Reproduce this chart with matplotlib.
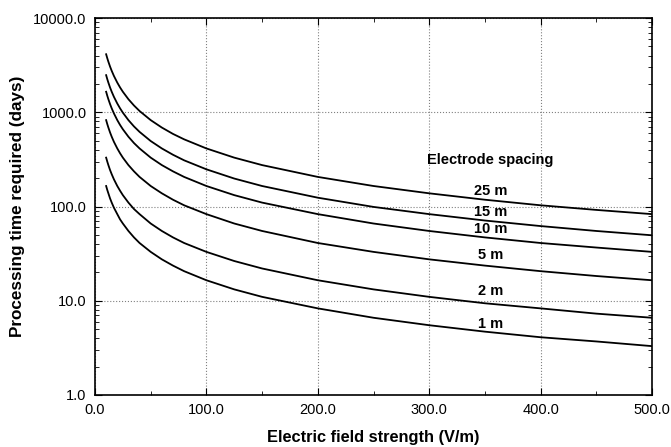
import numpy as np
import matplotlib.pyplot as plt
from matplotlib.ticker import FixedLocator, LogLocator, FormatStrFormatter, NullFormatter

plt.rcParams['font.family'] = ['Liberation Sans', 'DejaVu Sans']

# electric field strength (V/m)
field = [10, 11, 12, 13.5, 15, 17, 20, 22.5, 25, 30, 35, 40, 50, 60, 70, 80, 100, 125, 150, 200, 250, 300, 350, 400, 450, 500]

# processing time (days), one list per electrode spacing
t_1m = [165, 150, 138, 122, 110, 97, 83, 73, 66, 55, 47, 41, 33, 27.5, 23.6, 20.6, 16.5, 13.2, 11.0, 8.3, 6.6, 5.5, 4.7, 4.1, 3.7, 3.3]
t_2m = [330, 300, 275, 244, 220, 194, 165, 147, 132, 110, 94, 83, 66, 55, 47, 41, 33, 26.4, 22, 16.5, 13.2, 11.0, 9.4, 8.3, 7.3, 6.6]
t_5m = [825, 750, 688, 611, 550, 485, 413, 367, 330, 275, 236, 206, 165, 138, 118, 103, 83, 66, 55, 41, 33, 27.5, 23.6, 20.6, 18.3, 16.5]
t_10m = [1650, 1500, 1375, 1222, 1100, 971, 825, 733, 660, 550, 471, 413, 330, 275, 236, 206, 165, 132, 110, 83, 66, 55, 47, 41, 36.7, 33]
t_15m = [2475, 2250, 2063, 1833, 1650, 1456, 1238, 1100, 990, 825, 707, 619, 495, 413, 354, 309, 248, 198, 165, 124, 99, 83, 71, 62, 55, 49.5]
t_25m = [4125, 3750, 3438, 3056, 2750, 2426, 2063, 1833, 1650, 1375, 1179, 1031, 825, 688, 589, 516, 413, 330, 275, 206, 165, 138, 118, 103, 92, 83]

series = [t_1m, t_2m, t_5m, t_10m, t_15m, t_25m]
labels = ['1 m', '2 m', '5 m', '10 m', '15 m', '25 m']
label_y = [5.7, 12.7, 30.6, 58, 88, 146]

fig = plt.figure(figsize=(6.71, 4.47), dpi=100)
ax = fig.add_axes([95/671, 1 - 395/447, 557/671, 377/447])

for t in series:
    ax.plot(field, t, color='black', lw=1.3)

ax.set_yscale('log')
ax.set_xlim(0, 500)
ax.set_ylim(1, 10000)

ax.xaxis.set_major_locator(FixedLocator([0, 100, 200, 300, 400, 500]))
ax.xaxis.set_minor_locator(FixedLocator([50, 150, 250, 350, 450]))
ax.xaxis.set_major_formatter(FormatStrFormatter('%.1f'))
ax.yaxis.set_major_locator(LogLocator(base=10, numticks=10))
ax.yaxis.set_minor_locator(LogLocator(base=10, subs=np.arange(2, 10), numticks=20))
ax.yaxis.set_major_formatter(FormatStrFormatter('%.1f'))
ax.yaxis.set_minor_formatter(NullFormatter())

ax.tick_params(which='both', direction='in', top=True, right=True, labelsize=10.5, pad=6)
ax.tick_params(which='major', length=5)
ax.tick_params(which='minor', length=3)
ax.grid(True, which='major', linestyle=':', color='gray', lw=0.8)

for sp in ax.spines.values():
    sp.set_linewidth(1.2)

for lab, y in zip(labels, label_y):
    ax.text(355, y, lab, ha='center', va='center', fontsize=10.5, fontweight='bold')
ax.text(355, 311, 'Electrode spacing', ha='center', va='center', fontsize=10.5, fontweight='bold')

ax.set_xlabel('Electric field strength (V/m)', fontsize=11.8, fontweight='bold', labelpad=9)
ax.set_ylabel('Processing time required (days)', fontsize=12.3, fontweight='bold', labelpad=6)

fig.savefig('out.png', dpi=100)
